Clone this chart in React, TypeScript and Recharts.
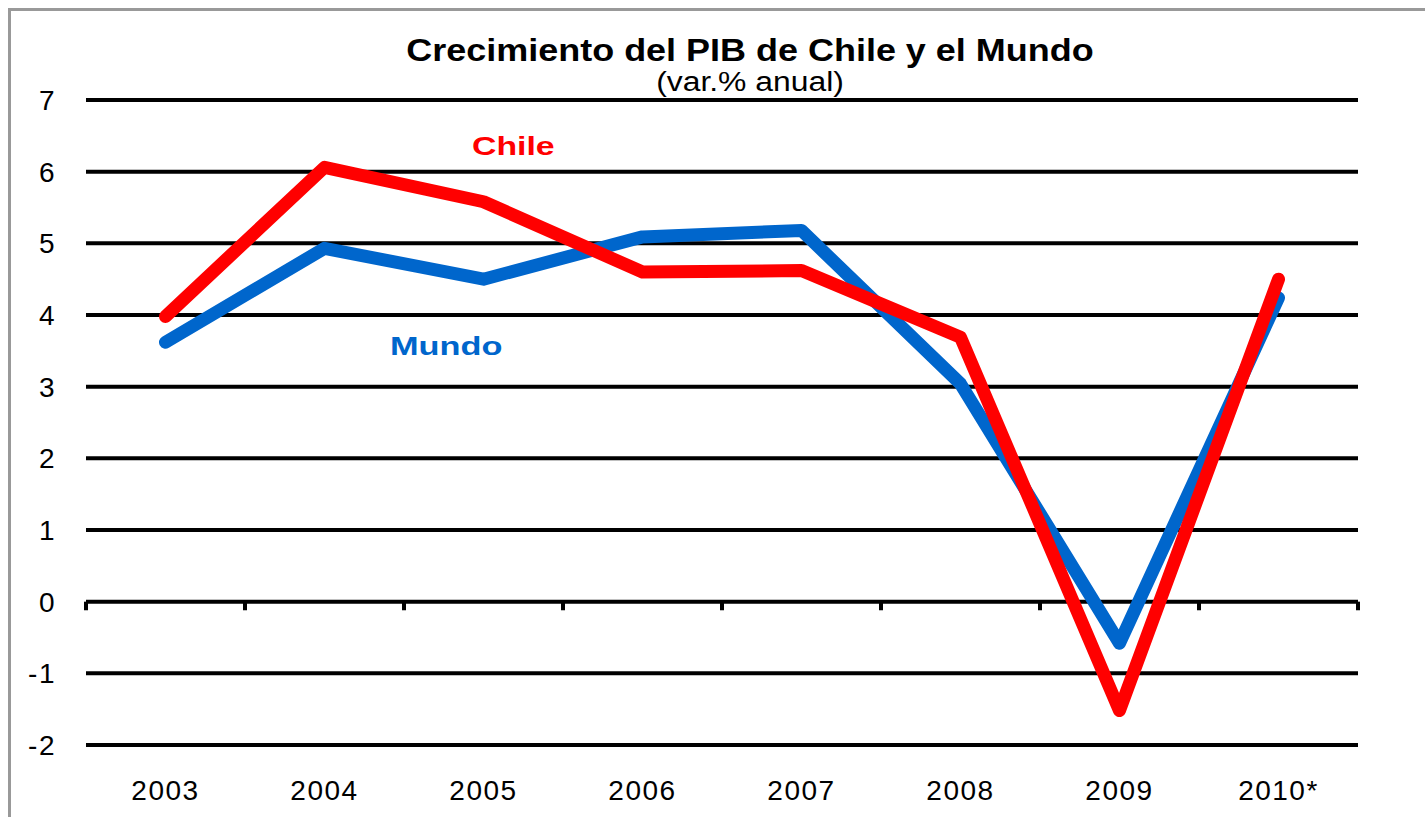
import React from 'react'
import {
  LineChart,
  Line,
  XAxis,
  YAxis,
  CartesianGrid,
  ReferenceLine,
} from 'recharts'

const years = ['2003', '2004', '2005', '2006', '2007', '2008', '2009', '2010*']
const chile = [3.98, 6.06, 5.58, 4.6, 4.62, 3.69, -1.52, 4.5]
const mundo = [3.62, 4.93, 4.5, 5.09, 5.18, 3.04, -0.58, 4.24]
const yTicks = [-2, -1, 0, 1, 2, 3, 4, 5, 6, 7]

const data = years.map((year, i) => ({ idx: i, year, chile: chile[i], mundo: mundo[i] }))
const xTicks = years.map((_, i) => i)
// bordes de las categorías, para las marcas sobre el eje en cero
const bandEdges = years.map((_, i) => i - 0.5).concat(years.length - 0.5)

const font = '"Liberation Sans", Arial, sans-serif'
const tickStyle = { fill: '#000', fontSize: 28, fontFamily: font, letterSpacing: 1.5 }

const textBox = (extra: React.CSSProperties): React.CSSProperties => ({
  position: 'absolute',
  fontFamily: font,
  whiteSpace: 'nowrap',
  ...extra,
})

export default function App() {
  return (
    <div style={{ position: 'absolute', left: 0, top: 0, width: 1425, height: 817, background: '#fff', overflow: 'hidden' }}>
      <div
        style={{
          position: 'absolute',
          left: 8,
          top: 8,
          width: 1500,
          height: 900,
          borderTop: '3px solid #999',
          borderLeft: '3px solid #999',
        }}
      />
      <LineChart
        width={1425}
        height={817}
        data={data}
        margin={{ top: 100, right: 0, left: 0, bottom: 0 }}
      >
        <CartesianGrid horizontal vertical={false} stroke="#000" strokeWidth={4} yAxisId="left" />
        <XAxis
          dataKey="idx"
          type="number"
          domain={[-0.5, years.length - 0.5]}
          allowDataOverflow
          ticks={xTicks}
          tickFormatter={(i) => years[i]}
          height={72}
          axisLine={false}
          tickLine={false}
          tickSize={28}
          tickMargin={7}
          tick={tickStyle}
          interval={0}
        />
        <YAxis
          yAxisId="left"
          width={86}
          domain={[-2, 7]}
          ticks={yTicks}
          axisLine={false}
          tickLine={false}
          tickSize={20}
          tickMargin={10}
          tick={tickStyle}
        />
        <YAxis
          yAxisId="right"
          orientation="right"
          width={67}
          domain={[-2, 7]}
          ticks={yTicks}
          axisLine={false}
          tickLine={false}
          tickSize={20}
          tickMargin={10}
          tick={{ ...tickStyle, textAnchor: 'start' }}
        />
        {bandEdges.map((e) => (
          <ReferenceLine
            key={e}
            yAxisId="left"
            segment={[
              { x: e, y: 0 },
              { x: e, y: -0.12 },
            ]}
            stroke="#000"
            strokeWidth={4}
          />
        ))}
        <Line
          yAxisId="left"
          type="linear"
          dataKey="mundo"
          stroke="#0066CC"
          strokeWidth={13}
          strokeLinecap="round"
          strokeLinejoin="round"
          dot={false}
          activeDot={false}
          isAnimationActive={false}
        />
        <Line
          yAxisId="left"
          type="linear"
          dataKey="chile"
          stroke="#FF0000"
          strokeWidth={13}
          strokeLinecap="round"
          strokeLinejoin="round"
          dot={false}
          activeDot={false}
          isAnimationActive={false}
        />
      </LineChart>
      <div
        style={textBox({
          left: 350,
          width: 800,
          top: 33,
          textAlign: 'center',
          fontWeight: 'bold',
          fontSize: 31,
          lineHeight: '36px',
          color: '#000',
          transform: 'scaleX(1.16)',
        })}
      >
        Crecimiento del PIB de Chile y el Mundo
      </div>
      <div
        style={textBox({
          left: 350,
          width: 800,
          top: 67,
          textAlign: 'center',
          fontSize: 27,
          lineHeight: '30px',
          color: '#000',
          transform: 'scaleX(1.18)',
        })}
      >
        (var.% anual)
      </div>
      <div
        style={textBox({
          left: 472,
          top: 131,
          fontWeight: 'bold',
          fontSize: 26,
          lineHeight: '30px',
          color: '#FF0000',
          transform: 'scaleX(1.3)',
          transformOrigin: 'left',
        })}
      >
        Chile
      </div>
      <div
        style={textBox({
          left: 390,
          top: 331,
          fontWeight: 'bold',
          fontSize: 26,
          lineHeight: '30px',
          color: '#0066CC',
          transform: 'scaleX(1.32)',
          transformOrigin: 'left',
        })}
      >
        Mundo
      </div>
    </div>
  )
}
